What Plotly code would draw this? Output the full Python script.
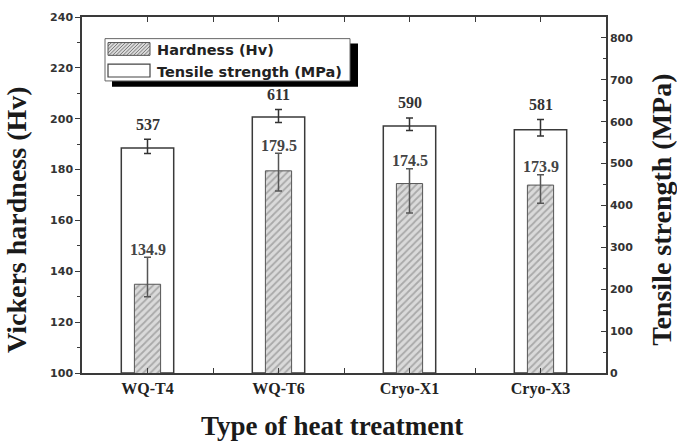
import plotly.graph_objects as go

categories = ["WQ-T4", "WQ-T6", "Cryo-X1", "Cryo-X3"]
tensile = [537, 611, 590, 581]
tensile_err_plus = [21, 18, 19, 24]
tensile_err_minus = [13, 13, 11, 15]
hardness = [134.9, 179.5, 174.5, 173.9]
hardness_err_plus = [10.6, 6.9, 5.8, 4.1]
hardness_err_minus = [4.9, 7.9, 11.6, 7.1]
tensile_labels = ["537", "611", "590", "581"]
hardness_labels = ["134.9", "179.5", "174.5", "173.9"]
left_ticks = [100, 120, 140, 160, 180, 200, 220, 240]
right_ticks = [0, 100, 200, 300, 400, 500, 600, 700, 800]
legend_names = ["Hardness (Hv)", "Tensile strength (MPa)"]

xs = list(range(len(categories)))

SERIF = "Liberation Serif"
SANS = "DejaVu Sans"
LINE = "#3a3a3a"

# plot area in pixels (for legend decoration placement)
PL, PR, PT, PB = 82, 606, 11, 373
W, H = 677, 441


def px(x):
    return (x - PL) / (PR - PL)


def py(y):
    return (PB - y) / (PB - PT)


fig = go.Figure()

fig.add_trace(go.Bar(
    x=xs, y=tensile, width=0.4, yaxis="y",
    name=legend_names[1], showlegend=False,
    marker=dict(color="white", line=dict(color=LINE, width=1.5)),
    error_y=dict(type="data", array=tensile_err_plus, arrayminus=tensile_err_minus,
                 color="#333", thickness=1.5, width=3.5),
))
fig.add_trace(go.Bar(
    x=xs, y=hardness, width=0.2, yaxis="y2",
    name=legend_names[0], showlegend=False,
    marker=dict(color="#d6d6d6", line=dict(color="#555", width=1),
                pattern=dict(shape="/", fgcolor="#777777", bgcolor="#dadada",
                             size=5, solidity=0.35)),
    error_y=dict(type="data", array=hardness_err_plus, arrayminus=hardness_err_minus,
                 color="#555", thickness=1.5, width=3.5),
))

annotations = []
for x, v, e, t in zip(xs, tensile, tensile_err_plus, tensile_labels):
    annotations.append(dict(x=x, y=v + e, xref="x", yref="y", text=t, showarrow=False,
                            yanchor="middle", yshift=15,
                            font=dict(family=SERIF, size=16, color="#333", weight="bold")))
for x, v, e, t in zip(xs, hardness, hardness_err_plus, hardness_labels):
    annotations.append(dict(x=x, y=v + e, xref="x", yref="y2", text=t, showarrow=False,
                            yanchor="middle", yshift=8,
                            font=dict(family=SERIF, size=16, color="#444", weight="bold")))

annotations += [
    dict(x=-0.124, y=0.43, xref="paper", yref="paper", text="Vickers hardness (Hv)",
         textangle=-90, showarrow=False, xanchor="center", yanchor="middle",
         font=dict(family=SERIF, size=28, color="#1a1a1a", weight="bold")),
    dict(x=1.107, y=0.459, xref="paper", yref="paper", text="Tensile strength (MPa)",
         textangle=-90, showarrow=False, xanchor="center", yanchor="middle",
         font=dict(family=SERIF, size=28, color="#1a1a1a", weight="bold")),
    dict(x=0.477, y=-0.148, xref="paper", yref="paper", text="Type of heat treatment",
         showarrow=False, xanchor="center", yanchor="middle",
         font=dict(family=SERIF, size=27, color="#1a1a1a", weight="bold")),
]

# legend texts
for name, cy in zip(legend_names, [45, 66.5]):
    annotations.append(dict(x=px(155), y=py(cy), xref="paper", yref="paper", text=name,
                            showarrow=False, xanchor="left", yanchor="middle",
                            font=dict(family=SANS, size=14.5, color="#222", weight="bold")))

# legend decoration: shadow, box, patches
shapes = [
    dict(type="rect", xref="paper", yref="paper", x0=px(112), x1=px(358), y0=py(82), y1=py(38),
         fillcolor="black", line=dict(width=0), layer="above"),
    dict(type="rect", xref="paper", yref="paper", x0=px(105), x1=px(350), y0=py(76), y1=py(33),
         fillcolor="white", line=dict(color="#666", width=1), layer="above"),
]
# hatched patch
hx0, hx1, hy0, hy1 = 108, 150, 37, 50
shapes.append(dict(type="rect", xref="paper", yref="paper", x0=px(hx0), x1=px(hx1),
                   y0=py(hy1), y1=py(hy0), fillcolor="#dadada",
                   line=dict(width=0), layer="above"))
hh = hy1 - hy0
segs = []
c = hx0 - hh
while c < hx1:
    # line from (c, hy1) to (c+hh, hy0), clipped to [hx0, hx1]
    xa, ya = c, hy1
    xb, yb = c + hh, hy0
    if xa < hx0:
        ya = hy1 - (hx0 - xa)
        xa = hx0
    if xb > hx1:
        yb = hy0 + (xb - hx1)
        xb = hx1
    if xb > xa:
        segs.append(f"M{px(xa)},{py(ya)} L{px(xb)},{py(yb)}")
    c += 3.5
shapes.append(dict(type="path", xref="paper", yref="paper", path=" ".join(segs),
                   line=dict(color="#7a7a7a", width=1), layer="above"))
shapes.append(dict(type="rect", xref="paper", yref="paper", x0=px(hx0), x1=px(hx1),
                   y0=py(hy1), y1=py(hy0), line=dict(color="#555", width=1), layer="above"))
# white patch
shapes.append(dict(type="rect", xref="paper", yref="paper", x0=px(108), x1=px(150),
                   y0=py(72), y1=py(59), fillcolor="white",
                   line=dict(color="#444", width=1.2), layer="above"))

fig.update_layout(
    width=W, height=H,
    margin=dict(l=PL, r=W - PR, t=PT, b=H - PB),
    paper_bgcolor="white", plot_bgcolor="white",
    barmode="overlay",
    showlegend=False,
    annotations=annotations,
    shapes=shapes,
    xaxis=dict(range=[-0.5, 3.5], tickvals=xs, ticktext=categories,
               ticks="inside", ticklen=5, tickcolor=LINE,
               showline=True, linecolor=LINE, linewidth=1.5, mirror="allticks",
               showgrid=False, zeroline=False,
               minor=dict(tick0=0.5, dtick=1, ticks="inside", ticklen=5, tickcolor=LINE, showgrid=False),
               tickfont=dict(family=SERIF, size=16, color="#222", weight="bold")),
    yaxis=dict(side="right", range=[0, 850], tickvals=right_ticks,
               ticks="inside", ticklen=5, tickcolor=LINE,
               showline=True, linecolor=LINE, linewidth=1.5,
               showgrid=False, zeroline=False,
               minor=dict(dtick=50, ticks="inside", ticklen=3, tickcolor=LINE, showgrid=False),
               tickfont=dict(family=SANS, size=11, color="#333", weight="bold")),
    yaxis2=dict(overlaying="y", side="left", range=[100, 240], tickvals=left_ticks,
                ticks="outside", ticklen=5, tickcolor=LINE,
                showline=True, linecolor=LINE, linewidth=1.5,
                showgrid=False, zeroline=False,
                minor=dict(dtick=10, ticks="outside", ticklen=3, tickcolor=LINE, showgrid=False),
                tickfont=dict(family=SANS, size=11, color="#333", weight="bold")),
)

fig.write_html("out.html")
